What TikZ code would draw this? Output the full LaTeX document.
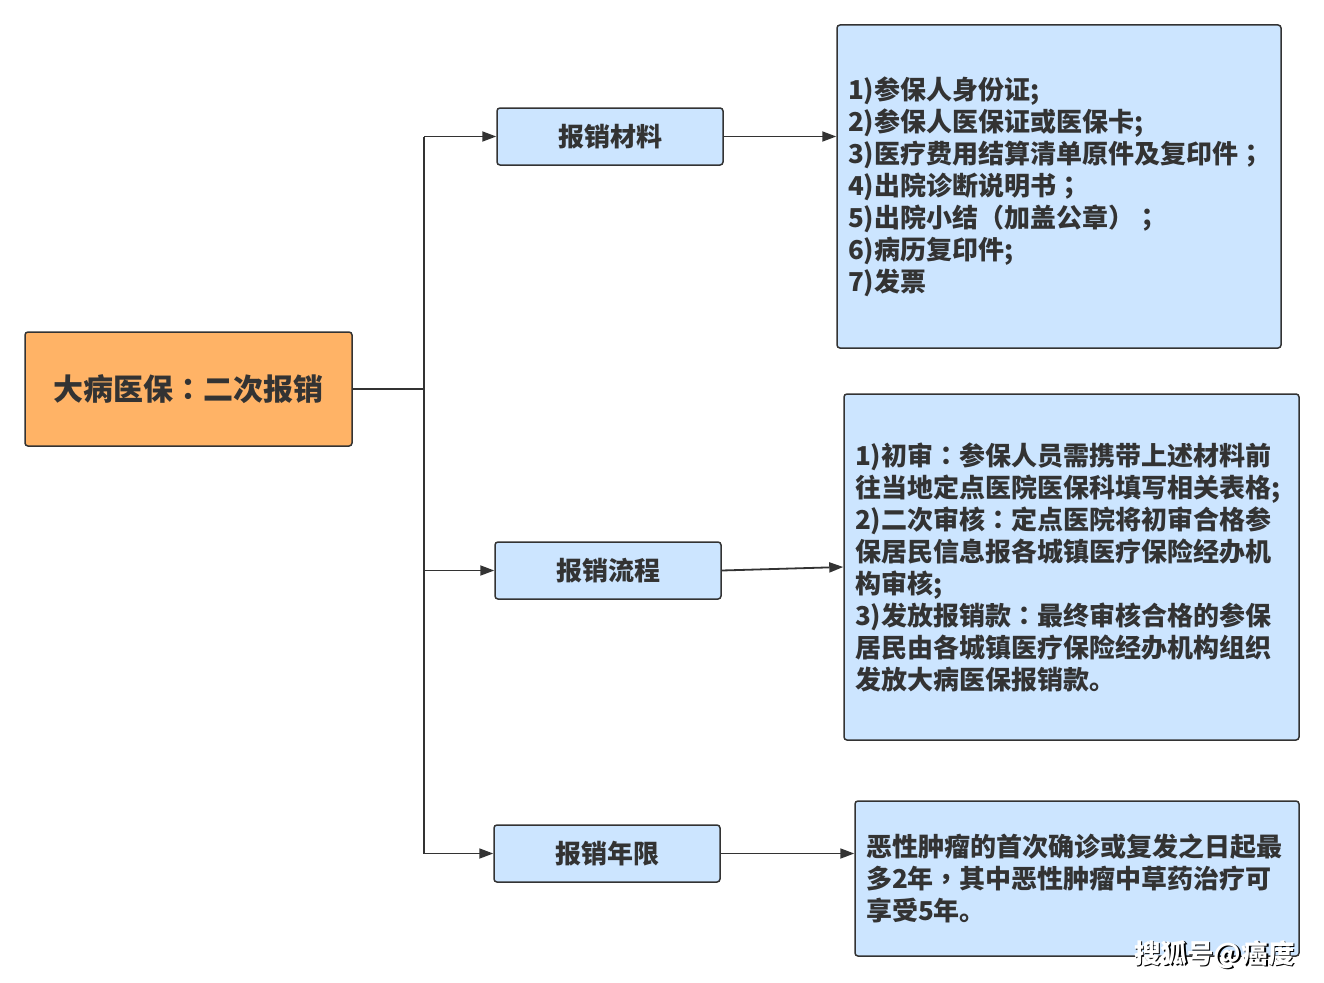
\documentclass[tikz,border=0pt]{standalone}
\usepackage{fontspec}
\newfontfamily\cjk{Noto Sans CJK SC}
\newfontfamily\cjkp{Noto Sans CJK TC}
\newcommand{\pc}{{\cjkp\bfseries ：}}
\newcommand{\ps}{{\cjkp\bfseries ；}}
\newcommand{\pk}{{\cjkp\bfseries ，}}
\newcommand{\plp}{{\cjkp\bfseries （}}
\newcommand{\prp}{{\cjkp\bfseries ）}}
\usetikzlibrary{arrows.meta}
\definecolor{ink}{HTML}{333333}
\definecolor{rootfill}{HTML}{FFB366}
\definecolor{boxfill}{HTML}{CCE5FF}
\tikzset{
  box/.style={draw=ink, line width=1.5pt, rounded corners=3pt, fill=boxfill, text=ink},
  rootbox/.style={box, fill=rootfill, minimum width=327pt, minimum height=114pt,
    font=\cjk\bfseries\fontsize{30}{36}\selectfont},
  midbox/.style={box, minimum width=226pt, minimum height=57pt,
    font=\cjk\bfseries\fontsize{26}{32}\selectfont},
  detail/.style={box, align=left, inner xsep=11pt, inner ysep=0pt,
    font=\cjk\bfseries\fontsize{26}{32}\selectfont},
  link/.style={draw=ink, line width=1.8pt},
  arr/.style={link, -{Triangle[length=14pt,width=10pt]}},
  wmark/.style={font=\cjk\bfseries\fontsize{26.5}{28}\selectfont, inner sep=0pt}
}
\begin{document}
\begin{tikzpicture}[x=1pt,y=-1pt]
\useasboundingbox[fill=white] (0,0) rectangle (1324,982);

\node[rootbox] (root) at (188.5,389) {大病医保\pc 二次报销};

\node[midbox] (m1) at (610,136.5) {报销材料};
\node[midbox] (m2) at (608,570.5) {报销流程};
\node[midbox] (m3) at (607,853.5) {报销年限};

\node[detail, text width=422pt, minimum height=323pt] (d1) at (1059,186.5)
  {1)参保人身份证;\\
   2)参保人医保证或医保卡;\\
   3)医疗费用结算清单原件及复印件\ps\\
   4)出院诊断说明书\ps\\
   5)出院小结\plp 加盖公章\prp\ps\\
   6)病历复印件;\\
   7)发票};

\node[detail, text width=433pt, minimum height=346pt] (d2) at (1071.5,567)
  {1)初审\pc 参保人员需携带上述材料前\\
   往当地定点医院医保科填写相关表格;\\
   2)二次审核\pc 定点医院将初审合格参\\
   保居民信息报各城镇医疗保险经办机\\
   构审核;\\
   3)发放报销款\pc 最终审核合格的参保\\
   居民由各城镇医疗保险经办机构组织\\
   发放大病医保报销款。};

\node[detail, text width=422pt, minimum height=155pt] (d3) at (1077,878.5)
  {恶性肿瘤的首次确诊或复发之日起最\\
   多2年\pk 其中恶性肿瘤中草药治疗可\\
   享受5年。};

\coordinate (trunk) at (424,389);
\draw[link] (root.east) -- (trunk);
\draw[link] (trunk) -- (trunk |- m1.west);
\draw[link] (trunk) -- (trunk |- m3.west);
\draw[arr] (trunk |- m1.west) -- (m1.west);
\draw[arr] (trunk) |- (m2.west);
\draw[arr] (trunk |- m3.west) -- (m3.west);

\draw[arr] (m1.east) -- (m1.east -| d1.west);
\draw[arr] (m2.east) -- (d2.west);
\draw[arr] (m3.east) -- (m3.east -| d3.west);

\node[wmark, text=black] (wmshadow) at (1216,956) {搜狐号@癌度};
\node[wmark, text=white] (wm) at (1214.5,954.5) {搜狐号@癌度};
\end{tikzpicture}
\end{document}
